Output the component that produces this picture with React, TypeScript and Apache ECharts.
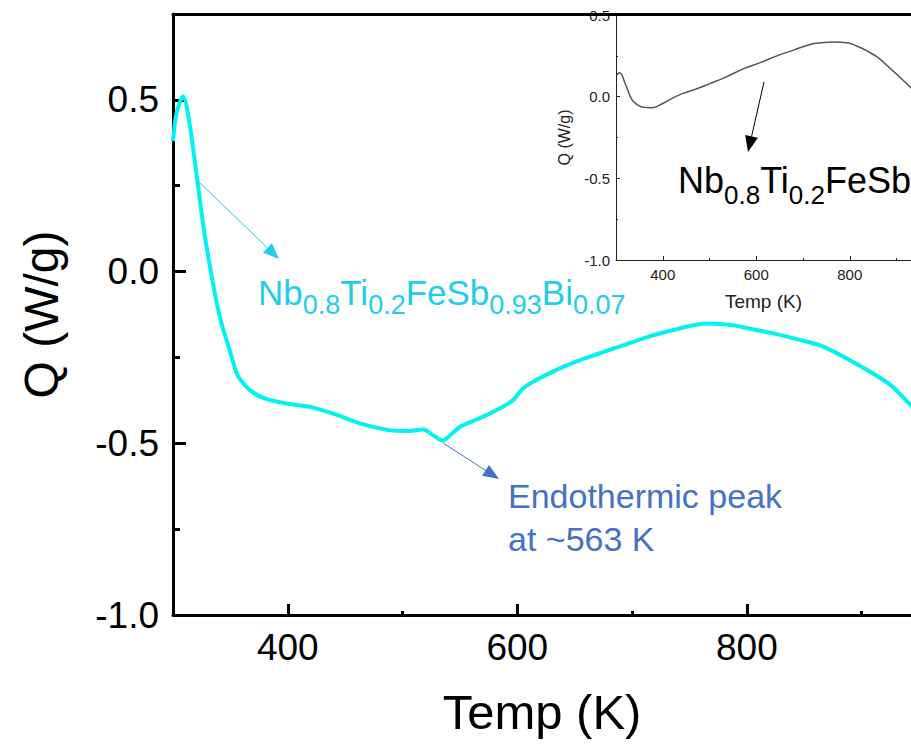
import React, { useEffect, useRef } from "react";
import * as echarts from "echarts";

// Main DSC curve (Nb0.8Ti0.2FeSb0.93Bi0.07)
const mainTemp = [300, 303, 308.7, 314, 321, 327, 333, 338, 343, 349, 356, 362, 367, 376, 388, 399, 411, 422, 439, 463, 478, 492, 505, 518, 526, 535, 542, 550, 565, 579, 596, 605, 620, 637, 649, 670, 692, 714, 736, 765, 788, 805, 823, 845, 866, 896, 925, 943, 955];
const mainQ = [0.38, 0.46, 0.51, 0.44, 0.27, 0.12, 0.0, -0.09, -0.16, -0.225, -0.3, -0.328, -0.345, -0.364, -0.377, -0.384, -0.39, -0.396, -0.413, -0.442, -0.455, -0.463, -0.464, -0.46, -0.475, -0.492, -0.475, -0.452, -0.43, -0.408, -0.375, -0.34, -0.31, -0.282, -0.265, -0.24, -0.215, -0.19, -0.17, -0.151, -0.156, -0.168, -0.18, -0.198, -0.218, -0.27, -0.33, -0.39, -0.43];

// Inset curve (Nb0.8Ti0.2FeSb)
const insetTemp = [302, 308, 319, 334, 346, 358, 377, 401, 420, 443, 470, 501, 535, 572, 610, 644, 680, 715, 740, 764, 794, 815, 837, 860, 880, 905, 929, 940];
const insetQ = [0.135, 0.147, 0.085, -0.018, -0.05, -0.065, -0.068, -0.04, -0.01, 0.02, 0.045, 0.08, 0.12, 0.17, 0.21, 0.25, 0.285, 0.32, 0.33, 0.335, 0.33, 0.31, 0.28, 0.24, 0.19, 0.125, 0.06, 0.03];

const xMajorTicks = [400, 600, 800];
const xMinorTicks = [500, 700, 900];
const yMajorTicks = [-1.0, -0.5, 0.0, 0.5];
const yMinorTicks = [-0.75, -0.25, 0.25];

// Formula labels: [text, isSubscript]
const mainFormula: [string, boolean][] = [["Nb", false], ["0.8", true], ["Ti", false], ["0.2", true], ["FeSb", false], ["0.93", true], ["Bi", false], ["0.07", true]];
const insetFormula: [string, boolean][] = [["Nb", false], ["0.8", true], ["Ti", false], ["0.2", true], ["FeSb", false]];

const FONT = "Liberation Sans, Arial, Helvetica, sans-serif";

function arrow(x1: number, y1: number, x2: number, y2: number, color: string, width: number, headLen: number, headW: number) {
  const dx = x2 - x1;
  const dy = y2 - y1;
  const len = Math.sqrt(dx * dx + dy * dy);
  const ux = dx / len;
  const uy = dy / len;
  const bx = x2 - ux * headLen;
  const by = y2 - uy * headLen;
  const px = (-uy * headW) / 2;
  const py = (ux * headW) / 2;
  return [
    { type: "line", z: 100, shape: { x1, y1, x2: bx, y2: by }, style: { stroke: color, lineWidth: width } },
    { type: "polygon", z: 100, shape: { points: [[x2, y2], [bx + px, by + py], [bx - px, by - py]] }, style: { fill: color } },
  ];
}

let measureCtx: CanvasRenderingContext2D | null = null;
function textWidth(t: string, size: number) {
  if (!measureCtx) measureCtx = document.createElement("canvas").getContext("2d");
  if (!measureCtx) return t.length * size * 0.55;
  measureCtx.font = `${size}px "Liberation Sans", Arial, sans-serif`;
  return measureCtx.measureText(t).width;
}

function formula(parts: [string, boolean][], x0: number, baseline: number, subBaseline: number, big: number, small: number, color: string) {
  const els: any[] = [];
  let x = x0;
  for (const [t, sub] of parts) {
    const size = sub ? small : big;
    const base = sub ? subBaseline : baseline;
    els.push({
      type: "text", z: 100, x, y: base - 0.3465 * size,
      style: { text: t, fill: color, fontSize: size, fontFamily: FONT, verticalAlign: "middle", align: "left" },
    });
    x += textWidth(t, size);
  }
  return els;
}

// axis that only draws ticks
function tickX(grid: number, max: number, values: number[], length: number, width: number, color: string) {
  return {
    type: "value", gridIndex: grid, position: "bottom", min: 300, max,
    axisLine: { show: false, onZero: false },
    axisTick: { show: true, inside: true, length, lineStyle: { width, color }, customValues: values },
    axisLabel: { show: false }, splitLine: { show: false },
  };
}
function tickY(grid: number, min: number, max: number, values: number[], length: number, width: number, color: string) {
  return {
    type: "value", gridIndex: grid, position: "left", min, max,
    axisLine: { show: false, onZero: false },
    axisTick: { show: true, inside: true, length, lineStyle: { width, color }, customValues: values },
    axisLabel: { show: false }, splitLine: { show: false },
  };
}

export default function App() {
  const ref = useRef<HTMLDivElement>(null);
  useEffect(() => {
    if (!ref.current) return;
    const chart = echarts.init(ref.current, undefined, { renderer: "svg" });
    const fmt = (v: number) => v.toFixed(1);
    const cyanText = "#22CDE8";
    const blue = "#4472C4";
    const option: any = {
      animation: false,
      backgroundColor: "#ffffff",
      textStyle: { fontFamily: FONT },
      grid: [
        { left: 173, top: 14, width: 738, height: 601, containLabel: false },
        { left: 616, top: 15, width: 295, height: 245, containLabel: false },
      ],
      xAxis: [
        {
          type: "value", gridIndex: 0, position: "bottom", min: 300, max: 943,
          axisLine: { show: true, onZero: false, lineStyle: { color: "#000", width: 3 } },
          axisTick: { show: false },
          axisLabel: { show: true, customValues: xMajorTicks, fontSize: 37, color: "#000", margin: 14, fontFamily: FONT },
          splitLine: { show: false },
          name: "Temp (K)", nameLocation: "middle", nameGap: 72,
          nameTextStyle: { fontSize: 49, color: "#000", fontFamily: FONT },
        },
        tickX(0, 943, xMinorTicks, 4, 3, "#000"),
        {
          type: "value", gridIndex: 0, position: "top", min: 300, max: 943, z: 10,
          axisLine: { show: true, onZero: false, lineStyle: { color: "#000", width: 3 } },
          axisTick: { show: false }, axisLabel: { show: false }, splitLine: { show: false },
        },
        {
          type: "value", gridIndex: 1, position: "bottom", min: 300, max: 931,
          axisLine: { show: true, onZero: false, lineStyle: { color: "#222", width: 1 } },
          axisTick: { show: false },
          axisLabel: { show: true, customValues: xMajorTicks, fontSize: 15, color: "#222", margin: 7, fontFamily: FONT },
          splitLine: { show: false },
          name: "Temp (K)", nameLocation: "middle", nameGap: 32,
          nameTextStyle: { fontSize: 19, color: "#222", fontFamily: FONT },
        },
        tickX(1, 931, xMinorTicks, 2, 1, "#222"),
        tickX(0, 943, xMajorTicks, 11, 3, "#000"),
        tickX(1, 931, xMajorTicks, 4, 1, "#222"),
      ],
      yAxis: [
        {
          type: "value", gridIndex: 0, position: "left", min: -1.0, max: 0.75,
          axisLine: { show: true, onZero: false, lineStyle: { color: "#000", width: 3 } },
          axisTick: { show: false },
          axisLabel: { show: true, customValues: yMajorTicks, formatter: fmt, fontSize: 37, color: "#000", margin: 14, fontFamily: FONT },
          splitLine: { show: false },
          name: "Q (W/g)", nameLocation: "middle", nameRotate: 90, nameGap: 108,
          nameTextStyle: { fontSize: 48, color: "#000", fontFamily: FONT },
        },
        tickY(0, -1.0, 0.75, yMinorTicks, 7, 3, "#000"),
        {
          type: "value", gridIndex: 1, position: "left", min: -1.0, max: 0.5,
          axisLine: { show: true, onZero: false, lineStyle: { color: "#222", width: 1 } },
          axisTick: { show: false },
          axisLabel: { show: true, customValues: yMajorTicks, formatter: fmt, fontSize: 15, color: "#222", margin: 6, fontFamily: FONT },
          splitLine: { show: false },
          name: "Q (W/g)", nameLocation: "middle", nameRotate: 90, nameGap: 44,
          nameTextStyle: { fontSize: 16, color: "#222", fontFamily: FONT },
        },
        tickY(1, -1.0, 0.5, yMinorTicks, 2, 1, "#222"),
        tickY(0, -1.0, 0.75, yMajorTicks, 13, 3, "#000"),
        tickY(1, -1.0, 0.5, yMajorTicks, 4, 1, "#222"),
      ],
      series: [
        {
          type: "line", xAxisIndex: 0, yAxisIndex: 0,
          data: mainTemp.map((t, i) => [t, mainQ[i]]),
          showSymbol: false, smooth: 0.3, clip: true,
          lineStyle: { color: "#00F2F2", width: 4 },
        },
        {
          type: "line", xAxisIndex: 3, yAxisIndex: 2,
          data: insetTemp.map((t, i) => [t, insetQ[i]]),
          showSymbol: false, smooth: 0.4, clip: true,
          lineStyle: { color: "#555", width: 1.5 },
        },
      ],
      graphic: [
        ...arrow(198, 181, 279, 259, cyanText, 1, 16, 13),
        ...arrow(443, 443, 499, 479, blue, 1, 16, 13),
        ...arrow(764, 82, 748, 152, "#000", 1, 16, 13),
        ...formula(mainFormula, 258, 305, 314, 35, 27, cyanText),
        ...formula(insetFormula, 678, 193, 204, 36, 26, "#000"),
        {
          type: "text", z: 100, x: 508, y: 474,
          style: {
            text: "Endothermic peak\nat ~563 K",
            fill: blue, fontSize: 34, lineHeight: 43, fontFamily: FONT,
          },
        },
      ],
    };
    chart.setOption(option);
    return () => chart.dispose();
  }, []);
  return <div ref={ref} style={{ position: "fixed", left: 0, top: 0, width: 911, height: 746, background: "#fff" }} />;
}
